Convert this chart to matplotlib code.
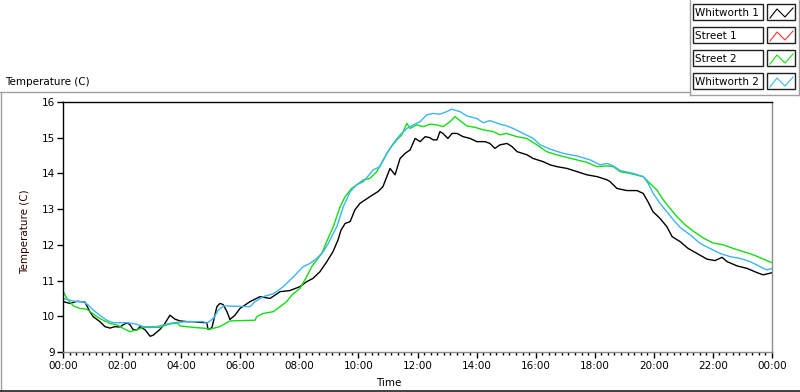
"""
Temperature log, two Whitworth and two Street sensors over one day
"""
import matplotlib
matplotlib.use('Agg')
import matplotlib.pyplot as plt
from matplotlib.ticker import MultipleLocator, AutoMinorLocator, FuncFormatter
from matplotlib.lines import Line2D
from matplotlib.patches import Rectangle

plt.rcParams['font.family'] = ['DejaVu Sans']

# hours since midnight / temperature (C)
w1_hours = [0.01, 0.24, 0.47, 0.74, 0.91, 1.02, 1.25, 1.42, 1.59, 1.76, 1.93, 2.03, 2.17,
            2.27, 2.37, 2.51, 2.61, 2.78, 2.95, 3.05, 3.28, 3.45, 3.62, 3.79, 3.96, 4.20,
            4.40, 4.64, 4.87, 4.91, 5.04, 5.21, 5.31, 5.42, 5.55, 5.65, 5.82, 5.99, 6.33,
            6.67, 7.01, 7.35, 7.68, 8.02, 8.25, 8.46, 8.70, 8.93, 9.14, 9.31, 9.41, 9.55,
            9.72, 9.88, 10.05, 10.39, 10.66, 10.83, 11.07, 11.24, 11.41, 11.58, 11.75,
            11.92, 12.09, 12.26, 12.42, 12.53, 12.66, 12.76, 12.86, 13.03, 13.17, 13.34,
            13.54, 13.78, 14.01, 14.29, 14.45, 14.62, 14.79, 15.03, 15.20, 15.37, 15.71,
            15.91, 16.25, 16.49, 16.72, 17.06, 17.40, 17.74, 18.08, 18.42, 18.52, 18.75,
            19.09, 19.43, 19.64, 19.80, 19.97, 20.21, 20.44, 20.62, 20.89, 21.16, 21.46,
            21.80, 22.07, 22.31, 22.48, 22.82, 23.16, 23.50, 23.70, 24.00]
w1_temp = [10.41, 10.36, 10.42, 10.40, 10.13, 9.99, 9.85, 9.71, 9.67, 9.71, 9.70, 9.76, 9.82,
           9.76, 9.63, 9.62, 9.71, 9.62, 9.44, 9.47, 9.63, 9.80, 10.03, 9.92, 9.87, 9.85,
           9.85, 9.83, 9.82, 9.63, 9.68, 10.27, 10.36, 10.33, 10.13, 9.91, 10.03, 10.22, 10.41,
           10.55, 10.50, 10.69, 10.72, 10.83, 10.97, 11.06, 11.25, 11.53, 11.81, 12.14, 12.41,
           12.60, 12.65, 12.98, 13.16, 13.35, 13.49, 13.63, 14.14, 13.96, 14.42, 14.56, 14.66,
           14.98, 14.89, 15.03, 15.00, 14.94, 14.94, 15.17, 15.12, 14.98, 15.12, 15.12,
           15.03, 14.98, 14.89, 14.89, 14.84, 14.70, 14.80, 14.84, 14.75, 14.61, 14.52,
           14.42, 14.33, 14.24, 14.19, 14.14, 14.05, 13.96, 13.91, 13.82, 13.77, 13.58,
           13.52, 13.52, 13.44, 13.21, 12.93, 12.74, 12.51, 12.23, 12.09, 11.90, 11.76,
           11.60, 11.56, 11.65, 11.53, 11.41, 11.34, 11.22, 11.16, 11.22]

s1_hours = []  # Street 1 has no samples on the chart
s1_temp = []

s2_hours = [0.01, 0.13, 0.35, 0.58, 0.80, 0.97, 1.14, 1.36, 1.59, 1.82, 2.04, 2.27, 2.49,
            2.72, 3.28, 3.51, 3.73, 3.89, 3.96, 4.41, 4.86, 4.98, 5.31, 5.65, 6.50, 6.56,
            6.78, 7.12, 7.35, 7.57, 7.74, 8.02, 8.25, 8.42, 8.59, 8.76, 8.93, 9.15, 9.38,
            9.55, 9.77, 9.94, 10.17, 10.39, 10.62, 10.84, 11.07, 11.30, 11.47, 11.64, 11.75,
            11.97, 12.20, 12.42, 12.65, 12.87, 13.10, 13.27, 13.44, 13.67, 13.95, 14.23,
            14.57, 14.79, 15.02, 15.36, 15.70, 16.04, 16.37, 16.71, 17.05, 17.39, 17.73,
            18.07, 18.41, 18.63, 18.86, 19.19, 19.64, 19.87, 20.10, 20.32, 20.55, 20.78,
            21.06, 21.34, 21.68, 22.01, 22.35, 22.69, 23.03, 23.37, 23.71, 24.00]
s2_temp = [10.69, 10.50, 10.29, 10.22, 10.20, 10.10, 9.99, 9.89, 9.80, 9.76, 9.66, 9.57, 9.62,
           9.69, 9.69, 9.76, 9.80, 9.80, 9.73, 9.69, 9.66, 9.64, 9.71, 9.87, 9.89, 9.99,
           10.08, 10.13, 10.27, 10.41, 10.59, 10.78, 11.11, 11.39, 11.58, 11.76, 12.10, 12.51,
           13.07, 13.35, 13.58, 13.68, 13.82, 13.86, 14.05, 14.38, 14.70, 14.94, 15.08, 15.40,
           15.26, 15.36, 15.31, 15.38, 15.36, 15.31, 15.45, 15.59, 15.48, 15.33, 15.29,
           15.22, 15.17, 15.08, 15.12, 15.03, 14.98, 14.80, 14.61, 14.52, 14.45, 14.38,
           14.31, 14.19, 14.21, 14.19, 14.05, 14.00, 13.91, 13.72, 13.54, 13.26, 13.02,
           12.79, 12.56, 12.38, 12.19, 12.05, 12.00, 11.90, 11.81, 11.72, 11.60, 11.50]

w2_hours = [0.01, 0.24, 0.46, 0.69, 0.86, 1.03, 1.25, 1.48, 1.70, 2.16, 2.49, 2.72, 3.17,
            3.51, 3.73, 4.19, 4.75, 4.86, 5.09, 5.26, 5.43, 6.33, 6.50, 6.78, 7.12, 7.46,
            7.68, 7.91, 8.13, 8.36, 8.59, 8.81, 8.98, 9.15, 9.27, 9.49, 9.72, 9.94, 10.17,
            10.50, 10.73, 10.96, 11.18, 11.41, 11.64, 11.86, 12.09, 12.31, 12.54, 12.76,
            12.99, 13.16, 13.44, 13.67, 14.00, 14.23, 14.45, 14.79, 15.02, 15.24, 15.58,
            15.92, 16.15, 16.49, 16.94, 17.39, 17.84, 18.18, 18.41, 18.63, 18.86, 19.31,
            19.64, 19.81, 19.98, 20.21, 20.44, 20.66, 20.89, 21.23, 21.57, 21.90, 22.24,
            22.58, 22.92, 23.26, 23.60, 23.82, 24.00]
w2_temp = [10.50, 10.45, 10.41, 10.41, 10.31, 10.17, 10.03, 9.89, 9.82, 9.82, 9.78, 9.71, 9.71,
           9.78, 9.82, 9.85, 9.85, 9.80, 9.94, 10.17, 10.29, 10.27, 10.41, 10.55, 10.63, 10.83,
           11.01, 11.20, 11.39, 11.48, 11.62, 11.81, 12.04, 12.32, 12.51, 13.07, 13.49, 13.68,
           13.77, 14.10, 14.19, 14.56, 14.84, 15.08, 15.26, 15.36, 15.45, 15.64, 15.68, 15.66,
           15.73, 15.80, 15.73, 15.61, 15.54, 15.42, 15.48, 15.38, 15.33, 15.26, 15.12,
           14.98, 14.80, 14.68, 14.56, 14.49, 14.38, 14.24, 14.28, 14.21, 14.08, 14.00,
           13.91, 13.72, 13.44, 13.16, 12.93, 12.70, 12.49, 12.28, 12.04, 11.90, 11.76,
           11.67, 11.62, 11.53, 11.39, 11.30, 11.34]

names = ['Whitworth 1', 'Street 1', 'Street 2', 'Whitworth 2']
colors = ['#000000', '#ff3030', '#14dc14', '#3cb4f5']

W, H = 800, 392
PANEL = '#a0a0a0'

fig = plt.figure(figsize=(W / 100, H / 100), dpi=100)
fig.patch.set_facecolor('white')

ax = fig.add_axes([63 / W, 40 / H, 709 / W, 250 / H])
ax.plot(w1_hours, w1_temp, color=colors[0], lw=1.0)
ax.plot(s1_hours, s1_temp, color=colors[1], lw=1.0)
ax.plot(s2_hours, s2_temp, color=colors[2], lw=1.0)
ax.plot(w2_hours, w2_temp, color=colors[3], lw=1.0)

ax.set_xlim(0, 24)
ax.set_ylim(9, 16)
ax.xaxis.set_major_locator(MultipleLocator(2))
ax.xaxis.set_minor_locator(AutoMinorLocator(9))
ax.xaxis.set_major_formatter(FuncFormatter(lambda h, pos: f'{int(round(h)) % 24:02d}:00'))
ax.yaxis.set_major_locator(MultipleLocator(1))
ax.tick_params(axis='x', which='major', length=4, width=1, pad=2.5, labelsize=7.5)
ax.tick_params(axis='x', which='minor', length=2, width=1)
ax.tick_params(axis='y', which='major', length=4, width=1, pad=1.5, labelsize=7.5)

ax.spines['left'].set_color('black')
ax.spines['top'].set_color('black')
ax.spines['right'].set_color('#8c8c8c')
ax.spines['bottom'].set_color('#8c8c8c')
for s in ax.spines.values():
    s.set_linewidth(1)

ax.set_xlabel('Time', fontsize=7.5)
ax.xaxis.set_label_coords(0.46, -0.105)
ax.set_ylabel('Temperature (C)', fontsize=7.5, color='#300000')
ax.yaxis.set_label_coords(-0.047, 0.48)

# overlay in pixel coordinates for the panel frame and legend
ov = fig.add_axes([0, 0, 1, 1], facecolor='none')
ov.set_xlim(0, W)
ov.set_ylim(H, 0)
ov.axis('off')

ov.plot([0, 690], [92, 92], color=PANEL, lw=1)
ov.plot([1, 1], [92, H], color=PANEL, lw=1)
ov.plot([0, W], [391, 391], color='#202020', lw=1.2)
ov.plot([690, 690], [0, 95], color=PANEL, lw=1)
ov.plot([690, 799], [95, 95], color=PANEL, lw=1)
ov.plot([799, 799], [0, 95], color=PANEL, lw=1)

ov.text(5, 82, 'Temperature (C)', fontsize=7.5, ha='left', va='center')

row_tops = [4, 27, 50, 73]
for top, name, color in zip(row_tops, names, colors):
    ov.add_patch(Rectangle((693, top), 70, 16, fill=False, ec='#202020', lw=1))
    ov.add_patch(Rectangle((767, top), 28, 16, fill=False, ec='#202020', lw=1))
    ov.text(695, top + 8.5, name, fontsize=7.5, ha='left', va='center')
    ov.add_line(Line2D([770, 777, 785, 793], [top + 14, top + 5, top + 13, top + 4],
                       color=color, lw=0.8))

plt.savefig('out.png', dpi=100)
print("saved out.png")
